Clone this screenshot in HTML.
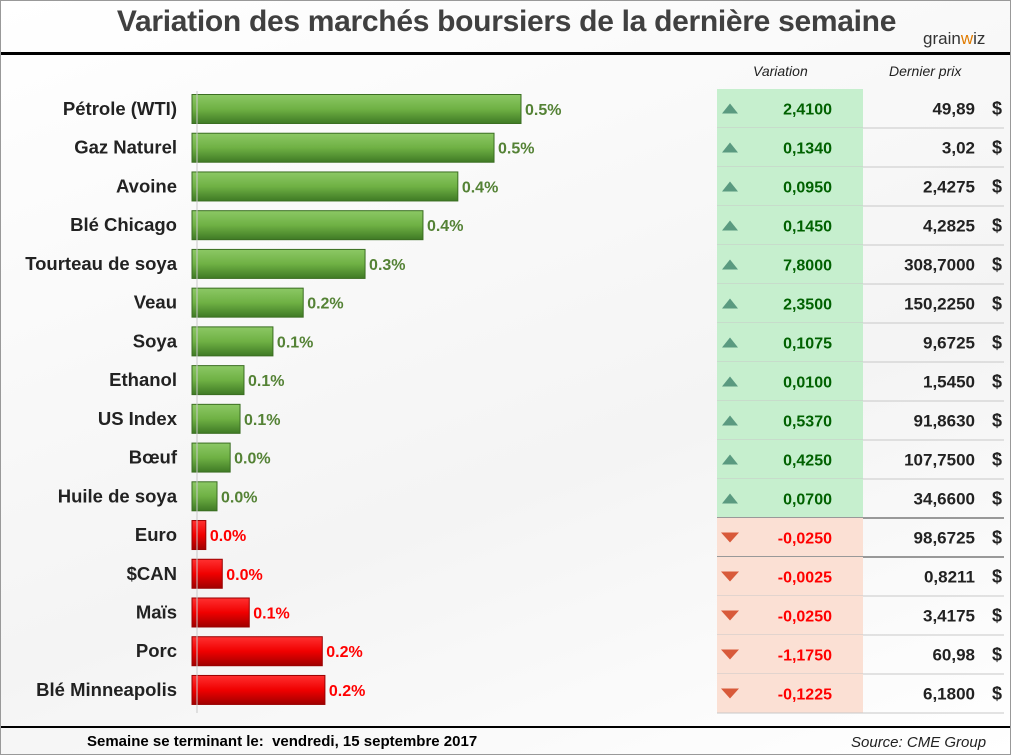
<!DOCTYPE html>
<html><head><meta charset="utf-8"><style>
body{margin:0;background:#fff;font-family:"Liberation Sans",sans-serif}
#wrap{position:relative;width:1009px;height:753px;border:1px solid #999;overflow:hidden;background:linear-gradient(160deg,#ffffff 0%,#f4f4f4 60%,#ffffff 100%)}
.t{position:absolute;white-space:nowrap}
</style></head><body>
<div id="wrap">
<div class="t" style="left:0;width:1011px;top:4px;text-align:center;font-size:30px;font-weight:bold;color:#404040;letter-spacing:-0.3px">Variation des marchés boursiers de la dernière semaine</div>
<div class="t" style="left:922px;top:28px;font-size:17px;color:#333">grain<span style="color:#e07b00">w</span>iz</div>
<div style="position:absolute;left:0;top:51px;width:1011px;height:3px;background:#000"></div>
<div class="t" style="left:752px;top:62px;font-size:14px;font-style:italic;color:#222">Variation</div>
<div class="t" style="left:888px;top:62px;font-size:14px;font-style:italic;color:#222">Dernier prix</div>
<svg id="svg" width="1011" height="755" style="position:absolute;left:0;top:0">
<defs>
<linearGradient id="gg" x1="0" y1="0" x2="0" y2="1"><stop offset="0" stop-color="#8cc865"/><stop offset="0.5" stop-color="#6fb144"/><stop offset="1" stop-color="#3f7a25"/></linearGradient>
<linearGradient id="rg" x1="0" y1="0" x2="0" y2="1"><stop offset="0" stop-color="#ff3030"/><stop offset="0.5" stop-color="#f00000"/><stop offset="1" stop-color="#a00000"/></linearGradient>
</defs>
</svg>
<div style="position:absolute;left:0;top:725px;width:1011px;height:2px;background:#000"></div>
<div class="t" style="left:86px;top:732px;font-size:15px;font-weight:bold;color:#000">Semaine se terminant le:&nbsp; vendredi, 15 septembre 2017</div>
<div class="t" style="left:850px;top:733px;font-size:15px;font-style:italic;color:#222">Source: CME Group</div>
</div>
<script>
const categories=["Pétrole (WTI)","Gaz Naturel","Avoine","Blé Chicago","Tourteau de soya","Veau","Soya","Ethanol","US Index","Bœuf","Huile de soya","Euro","$CAN","Maïs","Porc","Blé Minneapolis"];
const changePct=[0.50,0.459,0.404,0.351,0.263,0.169,0.123,0.079,0.073,0.058,0.038,-0.021,-0.046,-0.087,-0.198,-0.202];
const pctLabels=["0.5%","0.5%","0.4%","0.4%","0.3%","0.2%","0.1%","0.1%","0.1%","0.0%","0.0%","0.0%","0.0%","0.1%","0.2%","0.2%"];
const variations=["2,4100","0,1340","0,0950","0,1450","7,8000","2,3500","0,1075","0,0100","0,5370","0,4250","0,0700","-0,0250","-0,0025","-0,0250","-1,1750","-0,1225"];
const prices=["49,89","3,02","2,4275","4,2825","308,7000","150,2250","9,6725","1,5450","91,8630","107,7500","34,6600","98,6725","0,8211","3,4175","60,98","6,1800"];
const NS="http://www.w3.org/2000/svg",svg=document.getElementById('svg');
const x0=191,pxPer=658,rowY=i=>108+i*38.73,bh=29;
const xs=v=>Math.abs(v)*pxPer;
function mk(tag,at){const e=document.createElementNS(NS,tag);for(const k in at)e.setAttribute(k,at[k]);svg.appendChild(e);return e;}
const tTop=88,rh=39;
categories.forEach((c,i)=>{
 const pos=changePct[i]>=0,y=rowY(i);
 const bg=mk('rect',{x:716,y:tTop+i*rh,width:146,height:rh,fill:pos?'#c6efce':'#fbe0d4'});
 
 
 const ln=mk('line',{x1:716,x2:1003,y1:tTop+(i+1)*rh,y2:tTop+(i+1)*rh,stroke:(i==10||i==11)?'#999':'#c8c8c8','stroke-width':(i==10||i==11)?2:1});
 
 
 const cy=tTop+i*rh+rh/2;
 const ic=mk('polygon',{points:pos?`721,${cy+5} 737,${cy+5} 729,${cy-5}`:`720,${cy-5} 738,${cy-5} 729,${cy+5}`,fill:pos?'#5a9a80':'#d85a3a'});
 
 
 const vt=mk('text',{x:831,y:cy+6,'text-anchor':'end','font-size':16,'font-weight':'bold',fill:pos?'#006100':'#ff0000'});vt.textContent=variations[i];
 
 
 const pt=mk('text',{x:974,y:cy+6,'text-anchor':'end','font-size':17,'font-weight':'bold',fill:'#222'});pt.textContent=prices[i];
 
 
 const dt=mk('text',{x:1001,y:cy+6,'text-anchor':'end','font-size':18,'font-weight':'bold',fill:'#222'});dt.textContent='$';
 
 
 const w=xs(changePct[i]);
 const b=mk('rect',{x:x0,y:y-bh/2,width:w,height:bh,fill:pos?'url(#gg)':'url(#rg)',stroke:pos?'#3b6e22':'#900','stroke-width':1});
 
 
 const lb=mk('text',{x:x0+w+4,y:y+6,'font-size':16,'font-weight':'bold',fill:pos?'#548235':'#ff0000'});lb.textContent=pctLabels[i];
 
 
 const cl=mk('text',{x:176,y:y+6,'text-anchor':'end','font-size':18.5,'font-weight':'bold',fill:'#222'});cl.textContent=c;
 
 
});
const ax=mk('line',{x1:196,x2:196,y1:90,y2:712,stroke:'#c8c8c8','stroke-width':1});


</script>
</body></html>
